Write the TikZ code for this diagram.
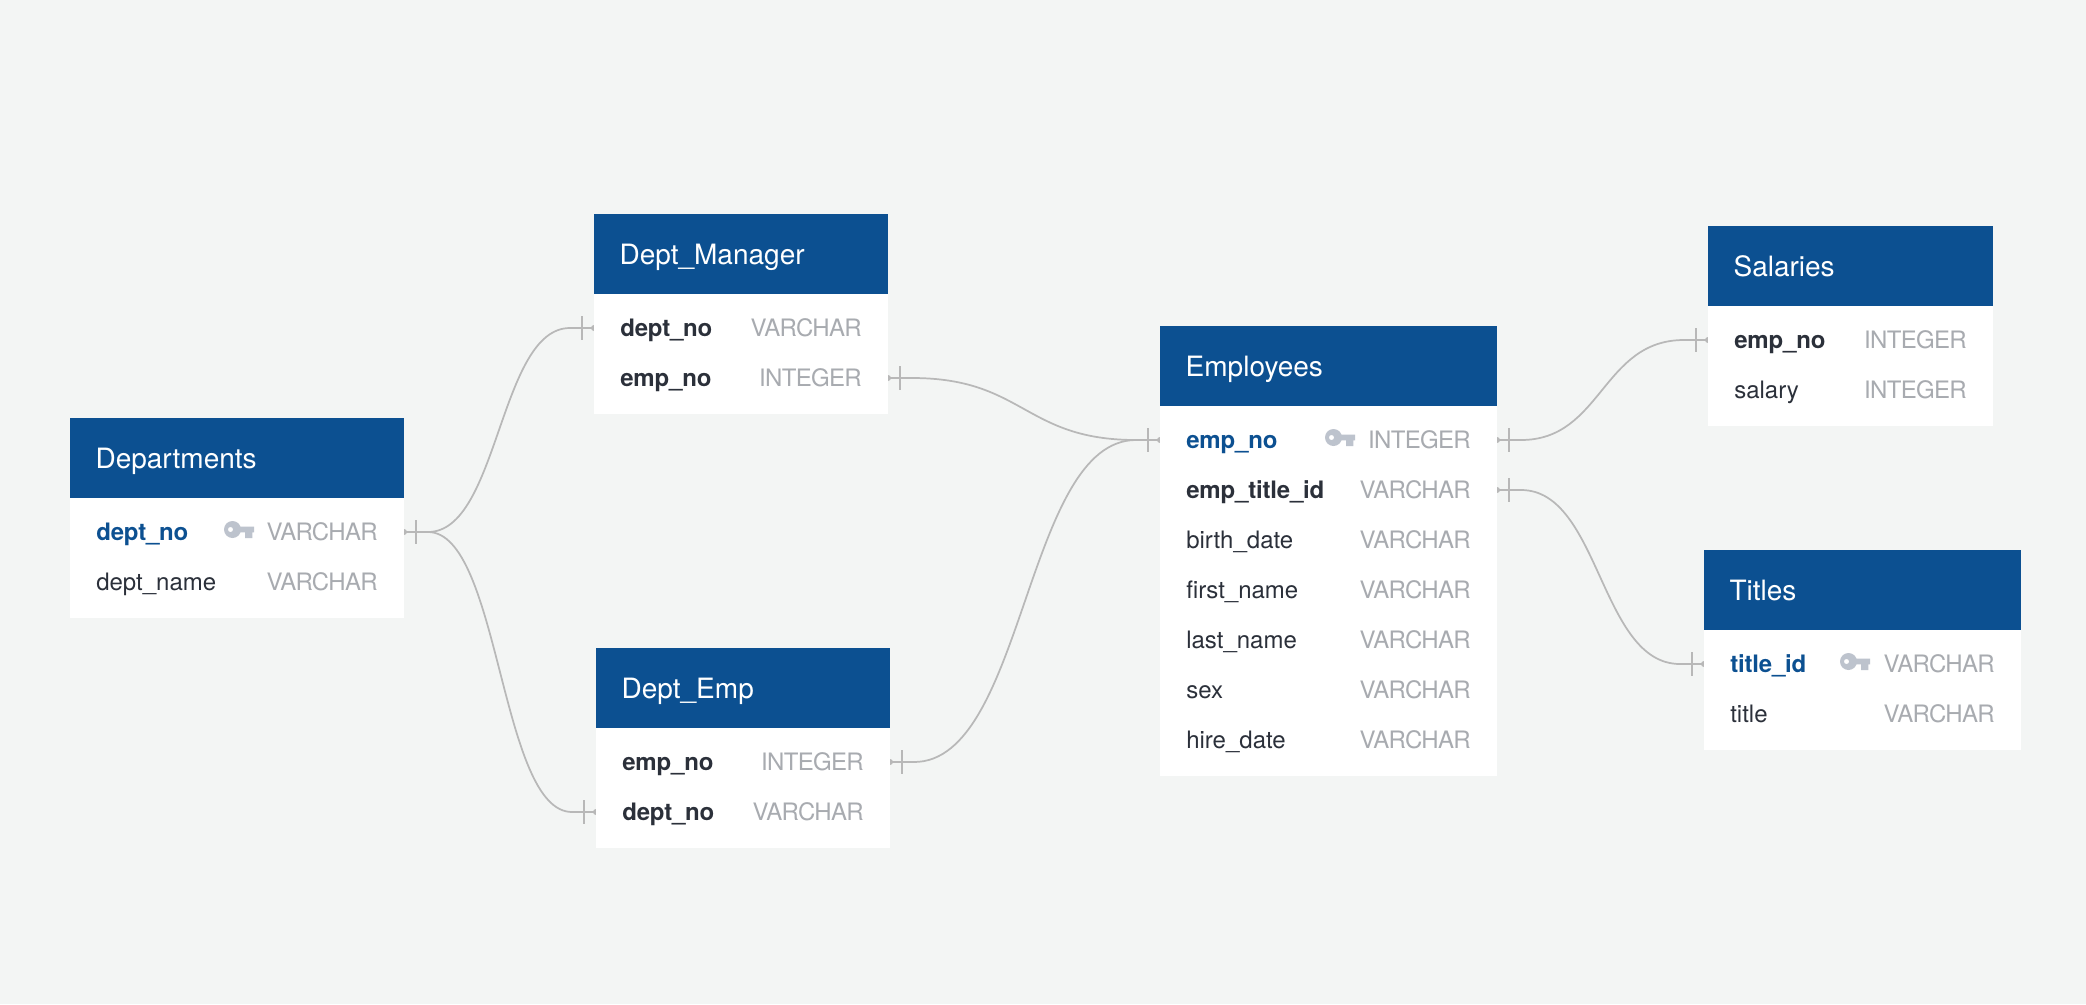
\documentclass[tikz,border=0pt]{standalone}
\usepackage{fontspec}
\setmainfont{TeX Gyre Heros}
\definecolor{pagebg}{HTML}{F3F5F4}
\definecolor{hdrblue}{HTML}{0C5091}
\definecolor{fielddark}{HTML}{2B303A}
\definecolor{typegrey}{HTML}{A8ABB0}
\definecolor{keygrey}{HTML}{BDC3CD}
\definecolor{linkgrey}{HTML}{B8B8B8}
\tikzset{
  hdrbox/.style={fill=hdrblue,draw=none,inner sep=0pt,anchor=north west},
  bodybox/.style={fill=white,draw=none,inner sep=0pt,anchor=north west},
  titletext/.style={text=white,font=\fontsize{21}{24}\selectfont,inner sep=0pt,anchor=base west},
  plainfield/.style={text=fielddark,font=\fontsize{18}{22}\selectfont,inner sep=0pt,anchor=base west},
  fkfield/.style={text=fielddark,font=\fontsize{18}{22}\selectfont\bfseries\addfontfeature{LetterSpace=-0.8},inner sep=0pt,anchor=base west},
  pkfield/.style={text=hdrblue,font=\fontsize{18}{22}\selectfont\bfseries\addfontfeature{LetterSpace=-0.8},inner sep=0pt,anchor=base west},
  typetext/.style={text=typegrey,font=\fontsize{18}{22}\selectfont\addfontfeature{LetterSpace=-2.8},inner sep=0pt,anchor=base east},
  link/.style={draw=linkgrey,line width=1.3pt},
  portdot/.style={circle,fill=linkgrey,draw=none,minimum size=4.5pt,inner sep=0pt},
}
% table: name, x1, x2, top, bottom, title
\newcommand{\ertable}[6]{%
  \node[bodybox,minimum width={(#3-#2)*0.75pt},minimum height={(#5-#4)*0.75pt}] (#1) at (#2,#4) {};
  \node[hdrbox,minimum width={(#3-#2)*0.75pt},minimum height=60pt] (#1-head) at (#2,#4) {};
  \node[titletext] (#1-title) at (#2+25.3,#4+50) {#6};
}
% row: table, row id, x1, x2, y, field style, field, type
\newcommand{\errow}[8]{%
  \node[#6] (#1-#2-field) at (#3+26,#5+8) {#7};
  \node[typetext] (#1-#2-type) at (#4-26,#5+8) {#8};
}
% key icon: left x, row y
\newcommand{\keyicon}[2]{%
  \fill[keygrey,even odd rule,shift={(#1,#2)}]
    (8.5,-2.5) circle[radius=8.5] (6.5,-2.5) circle[radius=2.6];
  \fill[keygrey,shift={(#1,#2)}]
    (14,-5.5) -- (30,-5.5) -- (30,0.3) -- (28.3,0.3) -- (28.3,6) -- (21,6) -- (21,0.3) -- (14,0.3) -- cycle;
}
% one-bar across the straight run of a connector
\newcommand{\porttick}[2]{%
  \path (#1) ++(#2*12,-12) coordinate (#1-bt) ++(0,24) coordinate (#1-bb);
  \draw[link] (#1-bt) -- (#1-bb);
}
\begin{document}
\begin{tikzpicture}[x=0.75pt,y=-0.75pt]
\fill[pagebg] (0,0) rectangle (2086,1004);
\useasboundingbox (0,0) rectangle (2086,1004);

% ports on table edges
\coordinate (pDepR) at (404,532);
\coordinate (pMgrL) at (594,328);
\coordinate (pEmpL2) at (596,812);
\coordinate (pMgrR) at (888,378);
\coordinate (pDEmpR) at (890,762);
\coordinate (pEmpL) at (1160,440);
\coordinate (pEmpR1) at (1497,440);
\coordinate (pEmpR2) at (1497,490);
\coordinate (pSalL) at (1708,340);
\coordinate (pTitL) at (1704,664);
% curve starts
\coordinate (cDepR) at (428,532);
\coordinate (cMgrL) at (570,328);
\coordinate (cEmpL2) at (572,812);
\coordinate (cMgrR) at (912,378);
\coordinate (cDEmpR) at (914,762);
\coordinate (cEmpL) at (1136,440);
\coordinate (cEmpR1) at (1521,440);
\coordinate (cEmpR2) at (1521,490);
\coordinate (cSalL) at (1684,340);
\coordinate (cTitL) at (1680,664);

% connectors
\foreach \a/\b in {pDepR/cDepR,pMgrL/cMgrL,pEmpL2/cEmpL2,pMgrR/cMgrR,pDEmpR/cDEmpR,pEmpL/cEmpL,pEmpR1/cEmpR1,pEmpR2/cEmpR2,pSalL/cSalL,pTitL/cTitL}{
  \draw[link] (\a) -- (\b);
  \node[portdot] (\a-dot) at (\a) {};
}
\draw[link] (cDepR) .. controls (499,532) and (499,328) .. (cMgrL);
\draw[link] (cDepR) .. controls (500,532) and (500,812) .. (cEmpL2);
\draw[link] (cMgrR) .. controls (1024,378) and (1024,440) .. (cEmpL);
\draw[link] (cDEmpR) .. controls (1025,762) and (1025,440) .. (cEmpL);
\draw[link] (cEmpR1) .. controls (1602,440) and (1602,340) .. (cSalL);
\draw[link] (cEmpR2) .. controls (1600,490) and (1600,664) .. (cTitL);
% one-bars
\foreach \a/\d in {pDepR/1,pMgrL/-1,pEmpL2/-1,pMgrR/1,pDEmpR/1,pEmpL/-1,pEmpR1/1,pEmpR2/1,pSalL/-1,pTitL/-1}{
  \porttick{\a}{\d}
}

% Departments
\ertable{dep}{70}{404}{418}{618}{Departments}
\errow{dep}{a}{70}{404}{532}{pkfield}{dept\_no}{VARCHAR}
\errow{dep}{b}{70}{404}{582}{plainfield}{dept\_name}{VARCHAR}
\keyicon{224}{532}
% Dept_Manager
\ertable{mgr}{594}{888}{214}{414}{Dept\_Manager}
\errow{mgr}{a}{594}{888}{328}{fkfield}{dept\_no}{VARCHAR}
\errow{mgr}{b}{594}{888}{378}{fkfield}{emp\_no}{INTEGER}
% Dept_Emp
\ertable{dem}{596}{890}{648}{848}{Dept\_Emp}
\errow{dem}{a}{596}{890}{762}{fkfield}{emp\_no}{INTEGER}
\errow{dem}{b}{596}{890}{812}{fkfield}{dept\_no}{VARCHAR}
% Employees
\ertable{emp}{1160}{1497}{326}{776}{Employees}
\errow{emp}{a}{1160}{1497}{440}{pkfield}{emp\_no}{INTEGER}
\errow{emp}{b}{1160}{1497}{490}{fkfield}{emp\_title\_id}{VARCHAR}
\errow{emp}{c}{1160}{1497}{540}{plainfield}{birth\_date}{VARCHAR}
\errow{emp}{d}{1160}{1497}{590}{plainfield}{first\_name}{VARCHAR}
\errow{emp}{e}{1160}{1497}{640}{plainfield}{last\_name}{VARCHAR}
\errow{emp}{f}{1160}{1497}{690}{plainfield}{sex}{VARCHAR}
\errow{emp}{g}{1160}{1497}{740}{plainfield}{hire\_date}{VARCHAR}
\keyicon{1325}{440}
% Salaries
\ertable{sal}{1708}{1993}{226}{426}{Salaries}
\errow{sal}{a}{1708}{1993}{340}{fkfield}{emp\_no}{INTEGER}
\errow{sal}{b}{1708}{1993}{390}{plainfield}{salary}{INTEGER}
% Titles
\ertable{tit}{1704}{2021}{550}{750}{Titles}
\errow{tit}{a}{1704}{2021}{664}{pkfield}{title\_id}{VARCHAR}
\errow{tit}{b}{1704}{2021}{714}{plainfield}{title}{VARCHAR}
\keyicon{1840}{664}
\end{tikzpicture}
\end{document}
